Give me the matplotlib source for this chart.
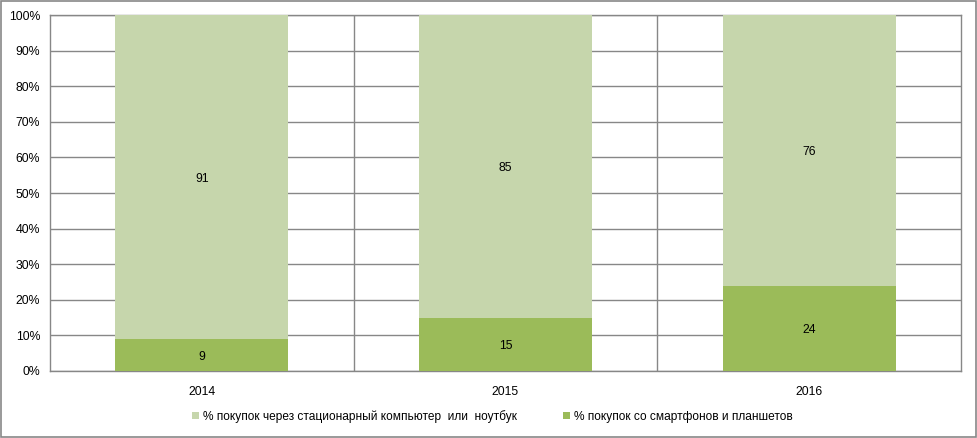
import matplotlib

matplotlib.use("Agg")
import matplotlib.pyplot as plt
from matplotlib.patches import Rectangle
import numpy as np

years = ["2014", "2015", "2016"]
mobile = [9, 15, 24]
desktop = [91, 85, 76]
labels = ["% покупок через стационарный компьютер  или  ноутбук",
          "% покупок со смартфонов и планшетов"]

LIGHT = "#c6d6ac"
DARK = "#9bbb59"
GRID = "#878787"
FS = 8.8

plt.rcParams["font.family"] = ["Liberation Sans", "DejaVu Sans"]

fig = plt.figure(figsize=(9.77, 4.38), dpi=100)
ax = fig.add_axes([0.0512, 0.153, 0.9324, 0.8126])

x = np.arange(len(years))
width = 0.57
b_mob = ax.bar(x, mobile, width, color=DARK, zorder=3, label=labels[1])
b_desk = ax.bar(x, desktop, width, bottom=mobile, color=LIGHT, zorder=3, label=labels[0])
for xi, m, d in zip(x, mobile, desktop):
    ax.text(xi, m / 2 - 0.5, f"{m}", ha="center", va="center", fontsize=FS, zorder=4)
    ax.text(xi, m + d / 2 - 0.5, f"{d}", ha="center", va="center", fontsize=FS, zorder=4)

ax.set_xlim(-0.5, len(years) - 0.5)
ax.set_ylim(0, 100)
ax.set_yticks(np.arange(0, 101, 10))
ax.set_yticklabels([f"{v}%" for v in range(0, 101, 10)], fontsize=FS)
ax.set_xticks(x)
ax.set_xticklabels(years, fontsize=FS)
ax.set_xticks(x[:-1] + 0.5, minor=True)
ax.tick_params(axis="both", which="both", length=0)
ax.tick_params(axis="x", pad=11)
ax.tick_params(axis="y", pad=7)
ax.yaxis.grid(True, color=GRID, linewidth=1, zorder=1)
ax.xaxis.grid(True, which="minor", color=GRID, linewidth=1, zorder=1)
for spine in ax.spines.values():
    spine.set_color(GRID)
    spine.set_linewidth(1)

ax.legend(handles=[b_desk, b_mob], loc="center", bbox_to_anchor=(0.504, 0.05),
          bbox_transform=fig.transFigure, ncol=2, frameon=False, fontsize=8.6,
          handlelength=0.6, handleheight=0.6, handletextpad=0.3, columnspacing=3.85)

fig.patches.append(Rectangle((0.001, 0.002), 0.998, 0.996, transform=fig.transFigure,
                             fill=False, edgecolor=GRID, linewidth=1.2))
fig.savefig("out.png", dpi=100)
